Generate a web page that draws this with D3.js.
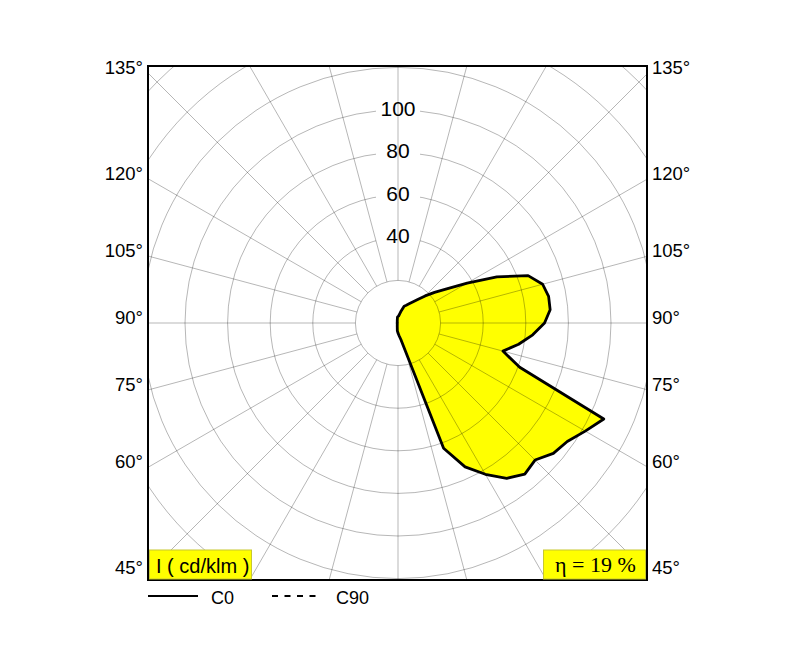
<!DOCTYPE html>
<html><head><meta charset="utf-8">
<script src="https://cdn.jsdelivr.net/npm/d3@7/dist/d3.min.js"></script>
<style>body{margin:0;background:#fff}svg{display:block}</style>
</head><body><svg id="c" width="795" height="650"></svg>
<script>
// ---- data ----
const gamma = [0,5,10,15,20,25,30,35,40,45,50,55,60,65,70,75,80,85,90,95,100,105,110,115,120,125,130,135,140,145,150,155,160,165,170,175,180];
const c0 = [4.7,6.0,8.0,14.1,62.6,74.5,82.0,89.0,92.6,91.0,95.2,97.0,101.5,106.6,60.8,51.0,57.5,63.5,68.8,71.7,71.8,70.3,65.0,51.2,37.5,27.9,22.4,18.0,14.4,12.0,10.4,9.2,8.4,6.0,4.2,3.3,3.0];
const c180 = [4.7,3.6,2.0,1.4,1.0,0.8,0.7,0.6,0.5,0.5,0.4,0.4,0.4,0.4,0.4,0.4,0.4,0.4,0.4,0.4,0.4,0.4,0.4,0.4,0.4,0.4,0.4,0.5,0.5,0.6,0.7,0.8,1.0,1.3,1.8,2.8,3.0];
const ringValues = [20,40,60,80,100,120,140,160];
const ringLabels = [40,60,80,100];
const spokeAngles = [0,15,30,45,60,75,90,105,120,135,150,165,180,195,210,225,240,255,270,285,300,315,330,345];
const angleTicks = [45,60,75,90,105,120,135];
const legendItems = ["C0","C90"];
const unitLabel = "I ( cd/klm )";
const effLabel = "η = 19 %";

// ---- layout ----
const box = {left:148, top:66, right:647, bottom:580};
const cx = 398, cy = 323;
const r = d3.scaleLinear().domain([0,100]).range([0,213]);
const rad = d => d*Math.PI/180;
const svg = d3.select("#c");
const sans = "Arial, 'Liberation Sans', sans-serif";

svg.append("defs").append("clipPath").attr("id","clip").append("rect")
  .attr("x",box.left).attr("y",box.top).attr("width",box.right-box.left).attr("height",box.bottom-box.top);

const g = svg.append("g").attr("clip-path","url(#clip)");
const plot = g.append("g").attr("transform",`translate(${cx},${cy})`);

// curve points: C0 on right, C180 on left (gamma measured from downward vertical)
const pts = gamma.map((d,i)=>[Math.PI - rad(d), r(c0[i])])
  .concat(gamma.map((d,i)=>[Math.PI + rad(d), r(c180[i])]).reverse());
const line = d3.lineRadial().angle(d=>d[0]).radius(d=>d[1]).curve(d3.curveLinearClosed);

plot.append("path").attr("d",line(pts)).attr("fill","#ffff00").attr("stroke","none");

const gridStroke = "rgba(0,0,0,0.36)";
plot.selectAll("circle.ring").data(ringValues).join("circle").attr("class","ring")
  .attr("r",d=>r(d)).attr("fill","none").attr("stroke",gridStroke).attr("stroke-width",0.8);

// white backing behind ring labels
plot.selectAll("rect.lb").data(ringLabels).join("rect").attr("class","lb")
  .attr("x",-22).attr("width",44).attr("y",d=>-r(d)-10).attr("height",20).attr("fill","#fff");

plot.selectAll("line.spoke").data(spokeAngles).join("line").attr("class","spoke")
  .attr("x1",d=>r(20)*Math.sin(rad(d))).attr("y1",d=>r(20)*Math.cos(rad(d)))
  .attr("x2",d=>r(200)*Math.sin(rad(d))).attr("y2",d=>r(200)*Math.cos(rad(d)))
  .attr("stroke",gridStroke).attr("stroke-width",0.8);

plot.append("path").attr("d",line(pts)).attr("fill","none").attr("stroke","#000")
  .attr("stroke-width",2.8).attr("stroke-linejoin","round");

plot.selectAll("text.rl").data(ringLabels).join("text").attr("class","rl")
  .attr("x",0).attr("y",d=>-r(d)+5.5).attr("text-anchor","middle")
  .attr("font-family",sans).attr("font-size",21).attr("fill","#000").text(d=>d);

// frame
svg.append("rect").attr("x",box.left).attr("y",box.top).attr("width",box.right-box.left)
  .attr("height",box.bottom-box.top).attr("fill","none").attr("stroke","#000").attr("stroke-width",2);

// angle tick labels
const halfW = cx - box.left;
angleTicks.forEach(a=>{
  const y = cy + halfW*Math.cos(rad(a))/Math.sin(rad(a)) + 1;
  svg.append("text").attr("x",box.left-5).attr("y",y).attr("text-anchor","end")
    .attr("font-family",sans).attr("font-size",18.5).text(a+"°");
  svg.append("text").attr("x",box.right+5).attr("y",y).attr("text-anchor","start")
    .attr("font-family",sans).attr("font-size",18.5).text(a+"°");
});

// unit box & efficiency box
svg.append("rect").attr("x",149.5).attr("y",550).attr("width",102).attr("height",29)
  .attr("fill","#ffff00").attr("stroke","#c8c830").attr("stroke-width",1);
svg.append("text").attr("x",156).attr("y",573).attr("font-family",sans).attr("font-size",20).text(unitLabel);
svg.append("rect").attr("x",543.5).attr("y",550).attr("width",102).attr("height",29)
  .attr("fill","#ffff00").attr("stroke","#c8c830").attr("stroke-width",1);
svg.append("text").attr("x",555).attr("y",572).attr("font-family","'Liberation Serif','Times New Roman',serif")
  .attr("font-size",22).text(effLabel);

// legend
svg.append("line").attr("x1",148).attr("x2",198).attr("y1",596).attr("y2",596).attr("stroke","#000").attr("stroke-width",2);
svg.append("text").attr("x",211).attr("y",604).attr("font-family",sans).attr("font-size",18).text(legendItems[0]);
svg.append("line").attr("x1",272).attr("x2",316).attr("y1",596).attr("y2",596).attr("stroke","#000").attr("stroke-width",2).attr("stroke-dasharray","6,6.5");
svg.append("text").attr("x",336).attr("y",604).attr("font-family",sans).attr("font-size",18).text(legendItems[1]);
</script></body></html>
